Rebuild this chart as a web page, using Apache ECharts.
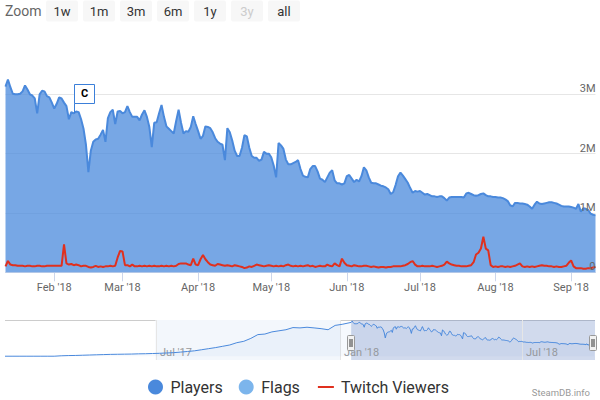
<!DOCTYPE html>
<html>
<head>
<meta charset="UTF-8">
<title>Players</title>
<style>
body{margin:0;background:#fff;}
#chart{width:600px;height:400px;}
</style>
</head>
<body>
<div id="chart"></div>
<script src="https://cdn.jsdelivr.net/npm/echarts@6.0.0/dist/echarts.min.js"></script>
<script>
// daily values, in thousands, starting 2018-01-12
var startDay = [2018, 0, 12];
var players = [
    3130, 3250, 3120, 3010, 3000, 3000, 3010, 3050, 3150, 3080,
    3000, 2980, 2930, 2680, 3000, 3060, 3050, 2970, 2950, 2860,
    2760, 2840, 2950, 2930, 2860, 2800, 2580, 2700, 2680, 2710,
    2700, 2580, 2420, 2150, 1690, 2050, 2200, 2240, 2250, 2320,
    2400, 2200, 2600, 2700, 2740, 2500, 2710, 2720, 2680, 2700,
    2800, 2700, 2620, 2620, 2620, 2560, 2660, 2730, 2620, 2450,
    2110, 2520, 2530, 2680, 2820, 2620, 2460, 2420, 2380, 2340,
    2550, 2740, 2520, 2340, 2380, 2370, 2450, 2630, 2500, 2380,
    2250, 2300, 2460, 2450, 2430, 2360, 2260, 2200, 2170, 2150,
    1890, 2430, 2360, 2220, 2050, 1960, 1960, 2100, 2310, 2290,
    2100, 1960, 1930, 1930, 1880, 1900, 2030, 2000, 2000, 1940,
    1800, 1600, 2180, 2140, 2080, 1900, 1820, 1820, 1840, 1860,
    1890, 1740, 1630, 1610, 1600, 1740, 1790, 1790, 1700, 1580,
    1560, 1520, 1600, 1680, 1720, 1550, 1500, 1500, 1480, 1500,
    1620, 1640, 1580, 1520, 1560, 1530, 1620, 1770, 1720, 1600,
    1510, 1500, 1500, 1480, 1460, 1450, 1430, 1400, 1320, 1350,
    1470, 1620, 1680, 1630, 1570, 1510, 1420, 1340, 1370, 1360,
    1370, 1340, 1310, 1320, 1300, 1280, 1280, 1270, 1280, 1280,
    1250, 1210, 1260, 1270, 1270, 1270, 1270, 1270, 1260, 1330,
    1340, 1320, 1300, 1290, 1300, 1320, 1330, 1300, 1280, 1280,
    1270, 1270, 1260, 1260, 1250, 1230, 1200, 1130, 1110, 1170,
    1170, 1160, 1160, 1150, 1140, 1110, 1070, 1140, 1190, 1160,
    1150, 1160, 1170, 1180, 1180, 1170, 1160, 1140, 1120, 1110,
    1110, 1110, 1100, 1090, 1070, 1150, 1020, 1080, 1070, 1050,
    990, 970, 960
];
var twitch = [
    100, 190, 130, 120, 120, 110, 110, 110, 100, 110,
    110, 100, 100, 110, 110, 100, 100, 110, 110, 110,
    110, 110, 110, 110, 470, 150, 130, 140, 120, 130,
    120, 100, 110, 110, 90, 80, 90, 110, 90, 100,
    90, 100, 100, 110, 100, 110, 250, 360, 350, 120,
    120, 100, 130, 100, 100, 110, 100, 110, 100, 110,
    100, 110, 100, 100, 110, 100, 110, 100, 110, 100,
    110, 140, 150, 150, 150, 130, 120, 230, 130, 120,
    220, 290, 220, 170, 130, 120, 110, 140, 130, 120,
    110, 120, 110, 100, 120, 110, 100, 90, 70, 80,
    100, 90, 110, 130, 120, 110, 100, 110, 120, 110,
    100, 110, 100, 110, 100, 120, 130, 110, 100, 110,
    100, 110, 100, 110, 120, 100, 110, 90, 100, 110,
    100, 100, 130, 110, 100, 150, 120, 100, 230, 160,
    120, 110, 100, 120, 110, 100, 100, 110, 110, 100,
    90, 100, 90, 80, 90, 90, 80, 90, 90, 100,
    100, 100, 100, 110, 120, 140, 170, 190, 130, 100,
    100, 110, 100, 100, 100, 110, 100, 90, 100, 110,
    130, 180, 150, 130, 120, 110, 110, 100, 100, 100,
    110, 120, 170, 300, 330, 400, 600, 400, 370, 120,
    90, 100, 90, 100, 100, 90, 100, 90, 100, 110,
    130, 150, 100, 90, 100, 90, 100, 90, 100, 110,
    120, 110, 110, 100, 100, 90, 100, 90, 90, 100,
    110, 160, 200, 100, 70, 70, 70, 60, 60, 70,
    70, 80, 90
];
// weekly players for the navigator, in thousands, starting 2017-02-01
var navStart = [2017, 1, 1];
var navHistory = [
    0, 0, 0, 0, 0, 0, 0, 0, 40, 60,
    70, 90, 110, 130, 150, 170, 180, 190, 200, 220,
    230, 250, 270, 300, 330, 380, 440, 500, 600, 700,
    800, 920, 1040, 1250, 1380, 1650, 2000, 2050, 2250, 2350,
    2450, 2650, 2620, 2680, 2620, 2550, 2450, 2850, 2950
];
var flagDates = ['2018-02-09'];
var flagTitles = ['C'];
var zoomButtons = ['1w', '1m', '3m', '6m', '1y', '3y', 'all'];
var disabledButtons = ['3y'];
var monthNames = ['Jan', 'Feb', 'Mar', 'Apr', 'May', 'Jun', 'Jul', 'Aug', 'Sep', 'Oct', 'Nov', 'Dec'];
var mainRange = ['2018-01-12', '2018-09-11'];
var navRange = ['2017-02-01', '2018-09-12'];
var navTicks = ['2017-07-01', '2018-01-01', '2018-07-01'];
var selectedRange = ['2018-01-12', '2018-09-12'];
var navBand = ['2017-07-01', '2018-01-01'];

var DAY = 86400000;
function dayTs(parts, offset) {
    return new Date(parts[0], parts[1], parts[2] + offset).getTime();
}
function parse(s) {
    var p = s.split('-');
    return new Date(+p[0], p[1] - 1, +p[2]).getTime();
}
function monthLabel(v) {
    var d = new Date(v);
    return monthNames[d.getMonth()] + " '" + String(d.getFullYear()).slice(2);
}

var playerData = players.map(function (v, i) { return [dayTs(startDay, i), v]; });
var twitchData = twitch.map(function (v, i) { return [dayTs(startDay, i), v]; });
var navData = navHistory.map(function (v, i) { return [dayTs(navStart, i * 7), v]; })
    .concat(playerData);
var flagData = flagDates.map(function (s) {
    var t = parse(s);
    var idx = Math.round((t - dayTs(startDay, 0)) / DAY);
    return [t, players[idx]];
});

var graphics = [{
    type: 'text', x: 5, y: 11,
    style: { text: 'Zoom', fontSize: 14, fontFamily: 'Roboto', fill: '#666', verticalAlign: 'middle' }
}, {
    type: 'line', shape: { x1: 5, y1: 320.5, x2: 595, y2: 320.5 },
    style: { stroke: '#cccccc', lineWidth: 1 }
}, {
    type: 'text', x: 590, y: 392,
    style: { text: 'SteamDB.info', fontSize: 9.5, fontFamily: 'Roboto', fill: '#999', align: 'right', verticalAlign: 'middle' }
}];
zoomButtons.forEach(function (b, i) {
    var off = disabledButtons.indexOf(b) >= 0;
    graphics.push({
        type: 'rect', shape: { x: 46 + 37 * i, y: 0.5, width: 32, height: 21, r: 2 },
        style: { fill: '#f7f7f7' }
    });
    graphics.push({
        type: 'text', x: 62 + 37 * i, y: 11.5,
        style: { text: b, fontSize: 13, fontFamily: 'Roboto', fill: off ? '#cccccc' : '#333',
            align: 'center', verticalAlign: 'middle' }
    });
});

var myChart = echarts.init(document.getElementById('chart'), null, { renderer: 'svg' });
var option = {
    animation: false,
    textStyle: { fontFamily: 'Roboto' },
    graphic: graphics,
    grid: [
        { left: 5.5, width: 590, top: 35, height: 237.3 },
        { left: 5, width: 590, top: 320, height: 40 }
    ],
    xAxis: [{
        type: 'time', gridIndex: 0,
        min: parse(mainRange[0]), max: parse(mainRange[1]),
        splitNumber: 8, minInterval: 28 * DAY, maxInterval: 31 * DAY,
        axisLine: { show: true, lineStyle: { color: '#ccd6eb' } },
        axisTick: { show: true, length: 9, lineStyle: { color: '#ccd6eb' } },
        splitLine: { show: false },
        axisLabel: {
            color: '#666', fontSize: 11, margin: 10,
            showMinLabel: false, showMaxLabel: false,
            formatter: function (v) { return new Date(v).getDate() === 1 ? monthLabel(v) : ''; }
        }
    }, {
        type: 'time', gridIndex: 1,
        min: parse(navRange[0]), max: parse(navRange[1]),
        axisLine: { show: false }, axisTick: { show: false },
        splitLine: { show: false }, axisLabel: { show: false }
    }],
    yAxis: [{
        type: 'value', gridIndex: 0, position: 'left', min: 0, max: 4000, interval: 1000,
        axisLabel: { show: false }, axisLine: { show: false }, axisTick: { show: false },
        splitLine: { show: true, showMinLine: false, showMaxLine: false, lineStyle: { color: '#e6e6e6' } }
    }, {
        type: 'value', gridIndex: 0, position: 'right', min: 0, max: 4000, interval: 1000, z: 10,
        axisLine: { show: false }, axisTick: { show: false }, splitLine: { show: false },
        axisLabel: {
            inside: true, margin: 0, verticalAlign: 'bottom', color: '#666', fontSize: 11,
            showMaxLabel: false,
            formatter: function (v) { return v === 0 ? '0' : (v >= 4000 ? '' : v / 1000 + 'M'); }
        }
    }, {
        type: 'value', gridIndex: 1, min: -350, max: 3350, show: false
    }],
    legend: {
        left: 143, top: 374, itemWidth: 20, itemHeight: 15, itemGap: 16,
        selectedMode: false,
        itemStyle: { borderWidth: 0 },
        textStyle: { fontSize: 16, color: '#333', fontFamily: 'Roboto' },
        data: [
            { name: 'Players', icon: 'circle' },
            { name: 'Flags', icon: 'circle' },
            { name: 'Twitch Viewers', icon: 'path://M0,0M20,15M2,6.5L18,6.5L18,8.5L2,8.5Z' }
        ]
    },
    series: [{
        name: 'Players', type: 'line', xAxisIndex: 0, yAxisIndex: 0, z: 2,
        symbol: 'none', data: playerData,
        itemStyle: { color: '#4a89dc' },
        lineStyle: { color: '#4a89dc', width: 2 },
        areaStyle: { color: '#4a89dc', opacity: 0.75 }
    }, {
        name: 'Twitch Viewers', type: 'line', xAxisIndex: 0, yAxisIndex: 0, z: 3,
        symbol: 'none', data: twitchData,
        itemStyle: { color: '#e0301e' },
        lineStyle: { color: '#e0301e', width: 2 }
    }, {
        name: 'Flags', type: 'custom', xAxisIndex: 0, yAxisIndex: 0, z: 4,
        data: flagData,
        itemStyle: { color: '#7cb5ec' },
        renderItem: function (params, api) {
            var p = api.coord([api.value(0), api.value(1)]);
            var x = Math.round(p[0]) + 0.5, y = p[1];
            return {
                type: 'group',
                children: [{
                    type: 'line', shape: { x1: x, y1: y, x2: x, y2: y - 10 },
                    style: { stroke: '#3b7fd9', lineWidth: 1 }
                }, {
                    type: 'rect', shape: { x: x, y: Math.round(y - 29.5) + 0.5, width: 20, height: 19 },
                    style: { fill: '#fff', stroke: '#3b7fd9', lineWidth: 1 }
                }, {
                    type: 'text', x: x + 10, y: y - 20,
                    style: { text: flagTitles[params.dataIndex], fontSize: 11, fontWeight: 'bold',
                        fontFamily: 'Roboto', fill: '#000', align: 'center', verticalAlign: 'middle' }
                }]
            };
        }
    }, {
        // band and selection mask of the navigator
        name: 'navMask', type: 'custom', xAxisIndex: 1, yAxisIndex: 2, z: 0, silent: true,
        encode: { x: [0, 1] },
        data: [[parse(navBand[0]), parse(navBand[1]), 0], [parse(selectedRange[0]), parse(selectedRange[1]), 1]],
        renderItem: function (params, api) {
            var x1 = api.coord([api.value(0), 0])[0];
            var x2 = api.coord([api.value(1), 0])[0];
            var cs = params.coordSys;
            return {
                type: 'rect', shape: { x: x1, y: cs.y, width: x2 - x1, height: cs.height },
                style: { fill: api.value(2) ? 'rgba(102,133,194,0.3)' : '#f3f7fc' }
            };
        }
    }, {
        name: 'navTicks', type: 'custom', xAxisIndex: 1, yAxisIndex: 2, z: 1, silent: true,
        encode: { x: 0 },
        data: navTicks.map(function (s) { return [parse(s)]; }),
        renderItem: function (params, api) {
            var cs = params.coordSys;
            var x = Math.round(api.coord([api.value(0), 0])[0]) + 0.5;
            return {
                type: 'group',
                children: [{
                    type: 'line', shape: { x1: x, y1: cs.y, x2: x, y2: cs.y + cs.height },
                    style: { stroke: '#e6e6e6', lineWidth: 1 }
                }, {
                    type: 'text', x: x + 3.5, y: cs.y + cs.height - 2,
                    style: { text: monthLabel(api.value(0)), fontSize: 11, fontFamily: 'Roboto',
                        fill: '#999', align: 'left', verticalAlign: 'bottom' }
                }]
            };
        }
    }, {
        name: 'navigator', type: 'line', xAxisIndex: 1, yAxisIndex: 2, z: 2, silent: true,
        symbol: 'none', data: navData,
        lineStyle: { color: '#4a89dc', width: 1 },
        areaStyle: { color: '#4a89dc', opacity: 0.05 }
    }, {
        name: 'navHandles', type: 'custom', xAxisIndex: 1, yAxisIndex: 2, z: 5, silent: true,
        encode: { x: [0, 1] },
        data: [[parse(selectedRange[0]), parse(selectedRange[1])]],
        renderItem: function (params, api) {
            var cs = params.coordSys;
            var cy = cs.y + 23;
            var kids = [];
            [api.value(0), api.value(1)].forEach(function (t) {
                var x = Math.round(api.coord([t, 0])[0]);
                if (x > cs.x + cs.width - 4) x = cs.x + cs.width - 2;
                kids.push({
                    type: 'rect', shape: { x: x - 3.5, y: cy - 7.5, width: 7, height: 15, r: 1 },
                    style: { fill: '#f2f2f2', stroke: '#999', lineWidth: 1 }
                });
                kids.push({
                    type: 'line', shape: { x1: x - 1, y1: cy - 4, x2: x - 1, y2: cy + 4 },
                    style: { stroke: '#333', lineWidth: 1 }
                });
                kids.push({
                    type: 'line', shape: { x1: x + 1, y1: cy - 4, x2: x + 1, y2: cy + 4 },
                    style: { stroke: '#333', lineWidth: 1 }
                });
            });
            return { type: 'group', children: kids };
        }
    }]
};
myChart.setOption(option);
</script>
</body>
</html>
